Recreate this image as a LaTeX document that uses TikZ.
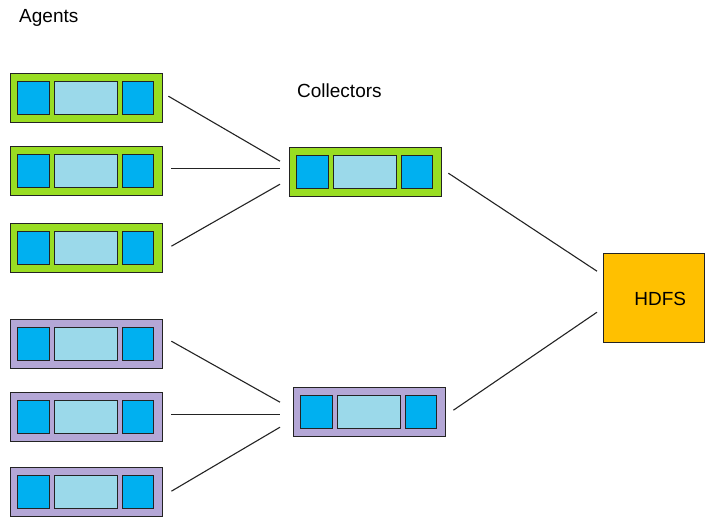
\documentclass[tikz,border=0pt]{standalone}
\usepackage{fontspec}
\setmainfont{Liberation Sans}
\usetikzlibrary{calc}
\definecolor{agreen}{RGB}{153,221,34}
\definecolor{apurple}{RGB}{180,167,214}
\definecolor{sqblue}{RGB}{0,176,240}
\definecolor{midblue}{RGB}{155,217,234}
\definecolor{hdfsorange}{RGB}{255,192,0}
\definecolor{edge}{RGB}{35,35,35}
\tikzset{
  outerbox/.style={draw=edge, line width=1.4pt, minimum width=152pt, minimum height=49pt, inner sep=0pt, anchor=north west},
  innerbox/.style={draw=edge, line width=1.4pt, inner sep=0pt, anchor=north west, minimum height=33pt},
  link/.style={draw=edge, line width=1.1pt},
  lbl/.style={font=\fontsize{19}{22}\selectfont, inner sep=0pt}
}
\newcommand{\mkpipe}[4]{%
  \node[outerbox, fill=#4] (#1) at (#2,#3) {};
  \node[innerbox, fill=sqblue, minimum width=32pt] (#1l) at ($(#1.north west)+(7pt,-8pt)$) {};
  \node[innerbox, fill=midblue, minimum width=63pt] (#1m) at ($(#1.north west)+(44pt,-8pt)$) {};
  \node[innerbox, fill=sqblue, minimum width=31pt] (#1r) at ($(#1.north west)+(112pt,-8pt)$) {};
}
\begin{document}
\begin{tikzpicture}[x=1pt,y=-1pt]
\useasboundingbox (0,0) rectangle (705,520);
\node[lbl, anchor=west] (agentslbl) at (19,18) {Agents};
\node[lbl, anchor=west] (collectorslbl) at (297,91) {Collectors};
\mkpipe{a1}{10}{73}{agreen}
\mkpipe{a2}{10}{146}{agreen}
\mkpipe{a3}{10}{223}{agreen}
\mkpipe{a4}{10}{319}{apurple}
\mkpipe{a5}{10}{392}{apurple}
\mkpipe{a6}{10}{467}{apurple}
\mkpipe{c1}{289}{147}{agreen}
\mkpipe{c2}{293}{387}{apurple}
\node[draw=edge, line width=1.4pt, fill=hdfsorange, minimum width=101pt, minimum height=89pt, anchor=north west, inner sep=0pt] (hdfs) at (603,253) {};
\node[lbl] (hdfslbl) at ($(hdfs.center)+(6,1)$) {HDFS};
% agent -> collector 1
\draw[link] ($(a1.east)+(5,-2)$) -- ($(c1.west)+(-9,-11)$);
\draw[link] ($(a2.east)+(8,-3)$) -- ($(c1.west)+(-9,-4)$);
\draw[link] ($(a3.east)+(8,-2)$) -- ($(c1.west)+(-9,12)$);
% agent -> collector 2
\draw[link] ($(a4.east)+(8,-3)$) -- ($(c2.west)+(-13,-10)$);
\draw[link] ($(a5.east)+(8,-3)$) -- ($(c2.west)+(-13,2)$);
\draw[link] ($(a6.east)+(8,-1)$) -- ($(c2.west)+(-13,15)$);
% collectors -> hdfs
\draw[link] ($(c1.east)+(6,1)$) -- ($(hdfs.west)+(-6,-27)$);
\draw[link] ($(c2.east)+(7,-2)$) -- ($(hdfs.west)+(-6,14)$);
\end{tikzpicture}
\end{document}
